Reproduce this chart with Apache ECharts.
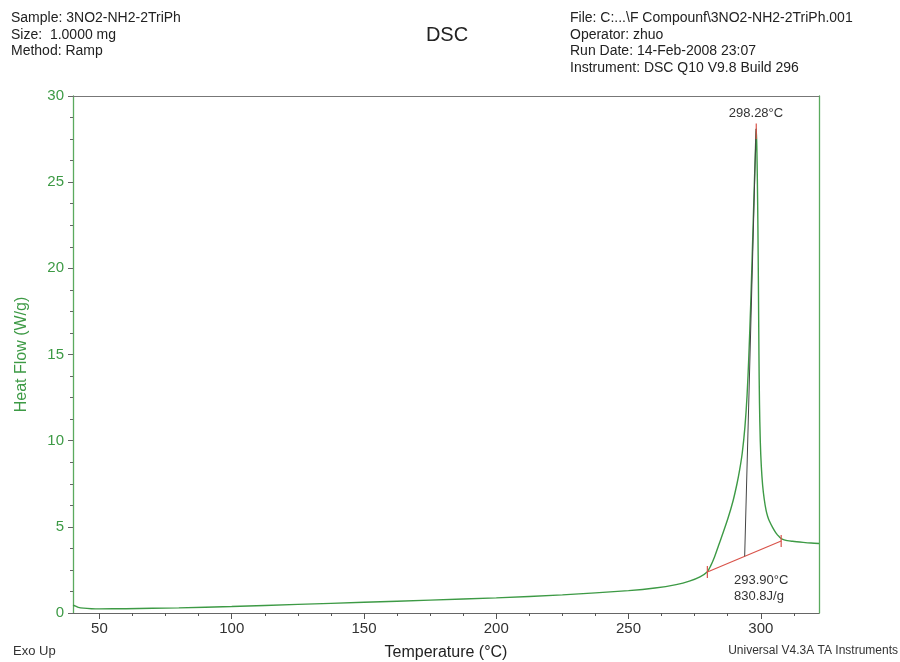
<!DOCTYPE html>
<html>
<head>
<meta charset="utf-8">
<script src="https://cdn.jsdelivr.net/npm/echarts@6/dist/echarts.min.js"></script>
<style>
  html, body { margin: 0; padding: 0; background: #fff; }
  #chart { width: 900px; height: 662px; }
</style>
</head>
<body>
<div id="chart"></div>
<script>
// DSC heat flow curve
var temps = [40, 41, 42, 44, 47, 50, 60, 80, 100, 125, 150, 175, 200, 225, 250, 260, 268, 273, 277,
  279.8, 281, 282.5, 284, 285.5, 287.5, 289.5, 291, 292, 293, 294, 294.8, 295.5, 296.2, 296.9, 297.6, 298, 298.28,
  298.5, 298.7, 298.9, 299.1, 299.3, 299.5, 299.8, 300.2, 300.7, 301.3, 302, 302.6, 303.2, 304.5, 305.7, 307, 308.1,
  310, 312, 316, 319, 322];
var heatFlow = [0.45, 0.4, 0.33, 0.28, 0.25, 0.24, 0.25, 0.3, 0.38, 0.5, 0.62, 0.75, 0.88, 1.05, 1.3, 1.45, 1.65, 1.85, 2.1,
  2.4, 2.72, 3.25, 3.9, 4.55, 5.45, 6.5, 7.5, 8.3, 9.3, 10.8, 12.6, 15.0, 18.0, 21.5, 25.1, 27.0, 28.1,
  27.0, 25.1, 22.5, 19.0, 15.0, 12.2, 10.0, 8.5, 7.4, 6.6, 5.95, 5.6, 5.35, 4.95, 4.65, 4.42, 4.28,
  4.2, 4.16, 4.1, 4.06, 4.03];

// peak analysis annotations
var baseline = [[279.8, 2.38], [307.7, 4.18]];
var tangent = [[293.9, 3.29], [298.2, 28.1]];
var tickMarks = [[279.8, 2.38], [307.7, 4.18]];
var peakMark = [298.28, 28.1];

var xMajor = [50, 100, 150, 200, 250, 300];
var xMinor = [62.5, 75, 87.5, 112.5, 125, 137.5, 162.5, 175, 187.5, 212.5, 225, 237.5,
  262.5, 275, 287.5, 312.5];

var green = '#3d9a45';
var axisGreen = '#5aaa5e';
var red = '#d9534a';
var font = 'Liberation Sans, Arial, sans-serif';

var chart = echarts.init(document.getElementById('chart'));

var series = [{
  type: 'line',
  data: temps.map(function (t, i) { return [t, heatFlow[i]]; }),
  showSymbol: false,
  smooth: 0.3,
  lineStyle: { color: green, width: 1.4 },
  z: 3
}, {
  type: 'line',
  data: baseline,
  showSymbol: false,
  lineStyle: { color: red, width: 1.2 },
  z: 4
}, {
  type: 'line',
  data: tangent,
  showSymbol: false,
  lineStyle: { color: '#444', width: 1 },
  z: 4
}];
tickMarks.forEach(function (p) {
  series.push({
    type: 'line',
    data: [[p[0], p[1] - 0.35], [p[0], p[1] + 0.35]],
    showSymbol: false,
    lineStyle: { color: red, width: 1.2 },
    z: 5
  });
});
series.push({
  type: 'line',
  data: [[peakMark[0], peakMark[1] - 0.6], [peakMark[0], peakMark[1] + 0.3]],
  showSymbol: false,
  lineStyle: { color: red, width: 1.2 },
  z: 5
});

var option = {
  animation: false,
  backgroundColor: '#fff',
  grid: { left: 73, right: 81, top: 96, bottom: 49, outerBoundsMode: 'none' },
  xAxis: [{
    type: 'value', min: 40, max: 322, position: 'bottom',
    axisLine: { lineStyle: { color: '#666', width: 1 } },
    axisTick: { customValues: xMajor, length: 6, lineStyle: { color: '#555' } },
    axisLabel: { customValues: xMajor, color: '#333', fontSize: 15, fontFamily: font, margin: 8 },
    splitLine: { show: false },
    name: 'Temperature (°C)', nameLocation: 'middle', nameGap: 32,
    nameTextStyle: { color: '#222', fontSize: 16, fontFamily: font }
  }, {
    type: 'value', min: 40, max: 322, position: 'bottom',
    axisLine: { show: false },
    axisTick: { customValues: xMinor, length: 3, lineStyle: { color: '#555' } },
    axisLabel: { show: false },
    splitLine: { show: false }
  }, {
    type: 'value', min: 40, max: 322, position: 'top',
    axisLine: { lineStyle: { color: '#777' } },
    axisTick: { show: false }, axisLabel: { show: false }, splitLine: { show: false }
  }],
  yAxis: [{
    type: 'value', min: 0, max: 30, interval: 5,
    axisLine: { show: true, lineStyle: { color: axisGreen, width: 1.3 } },
    axisTick: { show: true, length: 5, lineStyle: { color: '#666' } },
    minorTick: { show: true, splitNumber: 4, length: 3, lineStyle: { color: '#666' } },
    axisLabel: { color: green, fontSize: 15, fontFamily: font, margin: 9 },
    splitLine: { show: false },
    name: 'Heat Flow (W/g)', nameLocation: 'middle', nameGap: 43, nameRotate: 90,
    nameTextStyle: { color: green, fontSize: 16, fontFamily: font }
  }, {
    type: 'value', min: 0, max: 30, position: 'right',
    axisLine: { show: true, lineStyle: { color: axisGreen, width: 1.3 } },
    axisTick: { show: false }, axisLabel: { show: false }, splitLine: { show: false }
  }],
  series: series,
  graphic: [
    { type: 'text', left: 11, top: 10, style: { text: 'Sample: 3NO2-NH2-2TriPh\nSize:  1.0000 mg\nMethod: Ramp', fill: '#222', font: '14px ' + font, lineHeight: 16.5 } },
    { type: 'text', left: 570, top: 10, style: { text: 'File: C:...\\F Compounf\\3NO2-NH2-2TriPh.001\nOperator: zhuo\nRun Date: 14-Feb-2008 23:07\nInstrument: DSC Q10 V9.8 Build 296', fill: '#222', font: '14px ' + font, lineHeight: 16.5 } },
    { type: 'text', x: 447, y: 35, style: { text: 'DSC', fill: '#222', font: '20px ' + font, align: 'center', verticalAlign: 'middle' } },
    { type: 'text', x: 756, y: 113, style: { text: '298.28°C', fill: '#333', font: '13px ' + font, align: 'center', verticalAlign: 'middle' } },
    { type: 'text', x: 734, y: 588, style: { text: '293.90°C\n830.8J/g', fill: '#333', font: '13px ' + font, align: 'left', verticalAlign: 'middle', lineHeight: 16 } },
    { type: 'text', x: 13, y: 651, style: { text: 'Exo Up', fill: '#333', font: '13px ' + font, verticalAlign: 'middle' } },
    { type: 'text', x: 898, y: 651, style: { text: 'Universal V4.3A TA Instruments', fill: '#333', font: '12px ' + font, align: 'right', verticalAlign: 'middle' } }
  ]
};
chart.setOption(option);
</script>
</body>
</html>
